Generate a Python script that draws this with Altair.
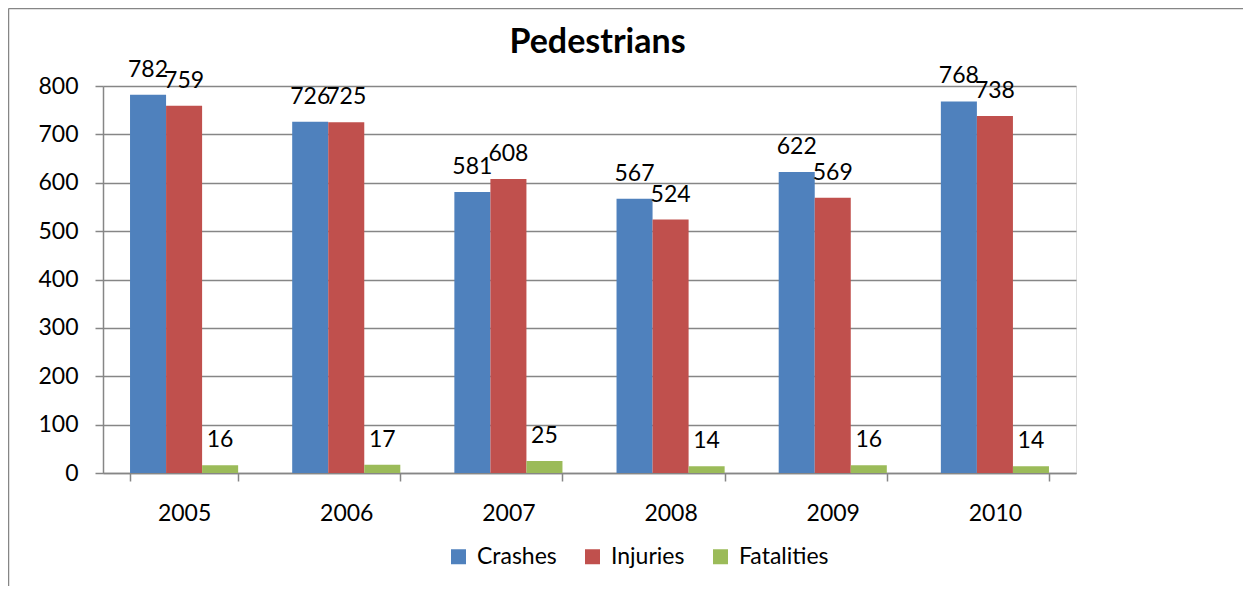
import altair as alt
import pandas as pd

years = ["2005", "2006", "2007", "2008", "2009", "2010"]
series = ["Crashes", "Injuries", "Fatalities"]
crashes = [782, 726, 581, 567, 622, 768]
injuries = [759, 725, 608, 524, 569, 738]
fatalities = [16, 17, 25, 14, 16, 14]
colors = ["#4F81BD", "#C0504D", "#9BBB59"]
y_ticks = [0, 100, 200, 300, 400, 500, 600, 700, 800]
title_text = ["Pedestrians"]

rows = []
for i, yr in enumerate(years):
    for s, vals in zip(series, [crashes, injuries, fatalities]):
        rows.append({"Year": yr, "Series": s, "Value": vals[i]})
df = pd.DataFrame(rows)

FONT = "Lato"
FS = 23
GRAY = "#868686"
W, H = 973, 387

x = alt.X(
    "Year:N", sort=years,
    scale=alt.Scale(paddingInner=1 / 3, paddingOuter=1 / 6),
    axis=alt.Axis(title=None, labelAngle=0, tickBand="extent", tickSize=8,
                  tickWidth=1.5, domainWidth=1.5, labelPadding=21,
                  domainColor=GRAY, tickColor=GRAY, labelFontSize=FS,
                  labelFont=FONT, labelColor="black", grid=False),
)
xo = alt.XOffset("Series:N", sort=series,
                 scale=alt.Scale(paddingInner=0, paddingOuter=0))
y = alt.Y(
    "Value:Q", scale=alt.Scale(domain=[0, 800]),
    axis=alt.Axis(title=None, values=y_ticks, grid=True, gridColor=GRAY,
                  gridWidth=1.5, domainColor=GRAY, domainWidth=1.5,
                  tickColor=GRAY, tickWidth=1.5, tickSize=8, labelPadding=17,
                  labelFontSize=FS, labelFont=FONT, labelColor="black"),
)
color = alt.Color(
    "Series:N", sort=series,
    scale=alt.Scale(domain=series, range=colors),
    legend=alt.Legend(orient="none", legendX=344, legendY=459,
                      direction="horizontal", title=None, symbolType="square",
                      symbolSize=225, symbolStrokeWidth=0, labelFontSize=FS,
                      labelFont=FONT, labelColor="black", columnPadding=24,
                      labelOffset=7),
)

base = alt.Chart(df)
bars = base.mark_bar().encode(x=x, xOffset=xo, y=y, color=color)
labels = base.mark_text(font=FONT, fontSize=FS, dy=-18, baseline="alphabetic",
                        align="center", color="black").encode(
    x=alt.X("Year:N", sort=years), xOffset=xo, y="Value:Q", text="Value:Q")

title = alt.Chart(pd.DataFrame({"t": title_text})).mark_text(
    font=FONT, fontSize=34, fontWeight="bold", align="center",
    baseline="alphabetic", color="black").encode(
    text="t:N", x=alt.value(W / 2 + 8), y=alt.value(-33))

frame_df = pd.DataFrame({"a": [0]})
border_top = alt.Chart(frame_df).mark_rule(stroke=GRAY, strokeWidth=1.5).encode(
    x=alt.value(-94.5), x2=alt.value(W + 400), y=alt.value(-77.5))
border_left = alt.Chart(frame_df).mark_rule(stroke=GRAY, strokeWidth=1.5).encode(
    x=alt.value(-94.5), y=alt.value(-77.5), y2=alt.value(H + 400))

chart = alt.layer(border_top, border_left, bars, labels, title).properties(
    width=W, height=H,
    autosize=alt.AutoSizeParams(type="none"),
    padding={"left": 95, "top": 78, "right": 167, "bottom": 113},
).configure_view(stroke=None).configure(background="white")

chart.save("out.html", embed_options={"renderer": "svg", "actions": False})
